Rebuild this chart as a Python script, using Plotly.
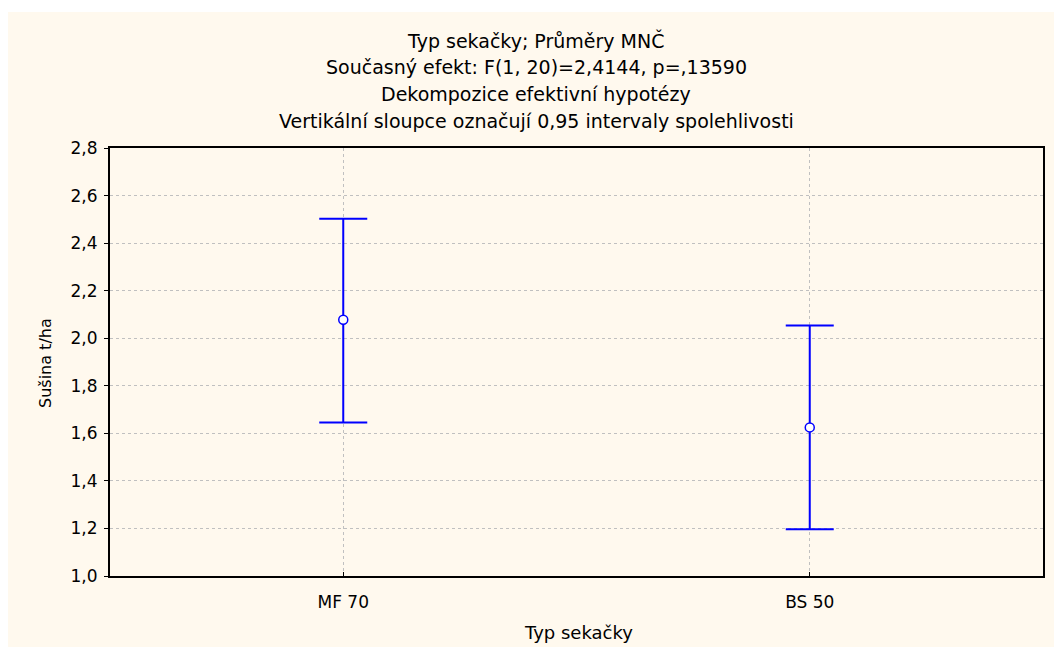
import plotly.graph_objects as go

categories = ["MF 70", "BS 50"]
means = [2.078, 1.625]
upper = [2.502, 2.053]
lower = [1.646, 1.197]
ytick_vals = [1.0, 1.2, 1.4, 1.6, 1.8, 2.0, 2.2, 2.4, 2.6, 2.8]

title_lines = [
    "Typ sekačky; Průměry MNČ",
    "Současný efekt: F(1, 20)=2,4144, p=,13590",
    "Dekompozice efektivní hypotézy",
    "Vertikální sloupce označují 0,95 intervaly spolehlivosti",
]
x_title = "Typ sekačky"
y_title = "Sušina t/ha"

W, H = 1054, 647
L, R, T, B = 110, 11, 148, 71
pw, ph = W - L - R, H - T - B

def px_x(p):
    return (p - L) / pw

def px_y(p):
    return (H - B - p) / ph

blue = "#0000FF"
font = "DejaVu Sans, Verdana, sans-serif"

fig = go.Figure()
fig.add_trace(go.Scatter(
    x=[0, 1], y=means,
    mode="markers",
    marker=dict(symbol="circle", size=9, color="white", line=dict(color=blue, width=1.5)),
    error_y=dict(
        type="data", symmetric=False,
        array=[u - m for u, m in zip(upper, means)],
        arrayminus=[m - l for m, l in zip(means, lower)],
        color=blue, thickness=2, width=24,
    ),
    showlegend=False,
    hoverinfo="skip",
))

fig.add_shape(type="rect", xref="paper", yref="paper",
              x0=px_x(8), x1=px_x(W + 5), y0=px_y(H + 5), y1=px_y(12),
              fillcolor="#FFF9EE", line=dict(width=0), layer="below")

for i, line in enumerate(title_lines):
    fig.add_annotation(text=line, xref="paper", yref="paper",
                       x=px_x(536), y=px_y(40 + 27 * i), xanchor="center", yanchor="middle",
                       showarrow=False, font=dict(family=font, size=19, color="black"))

fig.add_annotation(text=x_title, xref="paper", yref="paper",
                   x=px_x(578), y=px_y(632), xanchor="center", yanchor="middle",
                   showarrow=False, font=dict(family=font, size=18, color="black"))
fig.add_annotation(text=y_title, xref="paper", yref="paper", textangle=-90,
                   x=px_x(45), y=px_y(363), xanchor="center", yanchor="middle",
                   showarrow=False, font=dict(family=font, size=16, color="black"))

fig.update_layout(
    width=W, height=H,
    margin=dict(l=L, r=R, t=T, b=B, pad=0, autoexpand=False),
    paper_bgcolor="white",
    plot_bgcolor="white",
    separators=", ",
    font=dict(family=font, size=17, color="black"),
    xaxis=dict(
        range=[-0.5, 1.5], tickvals=[0, 1], ticktext=categories,
        showline=True, mirror=True, linecolor="black", linewidth=2,
        showgrid=True, gridcolor="#C0C0C0", griddash="dot", gridwidth=1,
        ticks="inside", ticklen=4, tickcolor="black",
        ticklabelstandoff=10,
        zeroline=False, automargin=False,
        tickfont=dict(size=17),
    ),
    yaxis=dict(
        range=[1.0, 2.8], tickvals=ytick_vals, tickformat=".1f",
        showline=True, mirror=True, linecolor="black", linewidth=2,
        showgrid=True, gridcolor="#C0C0C0", griddash="dot", gridwidth=1,
        ticks="outside", ticklen=4, tickcolor="black",
        ticklabelstandoff=3,
        zeroline=False, automargin=False,
        tickfont=dict(size=17),
    ),
)

fig.write_html("out.html")
